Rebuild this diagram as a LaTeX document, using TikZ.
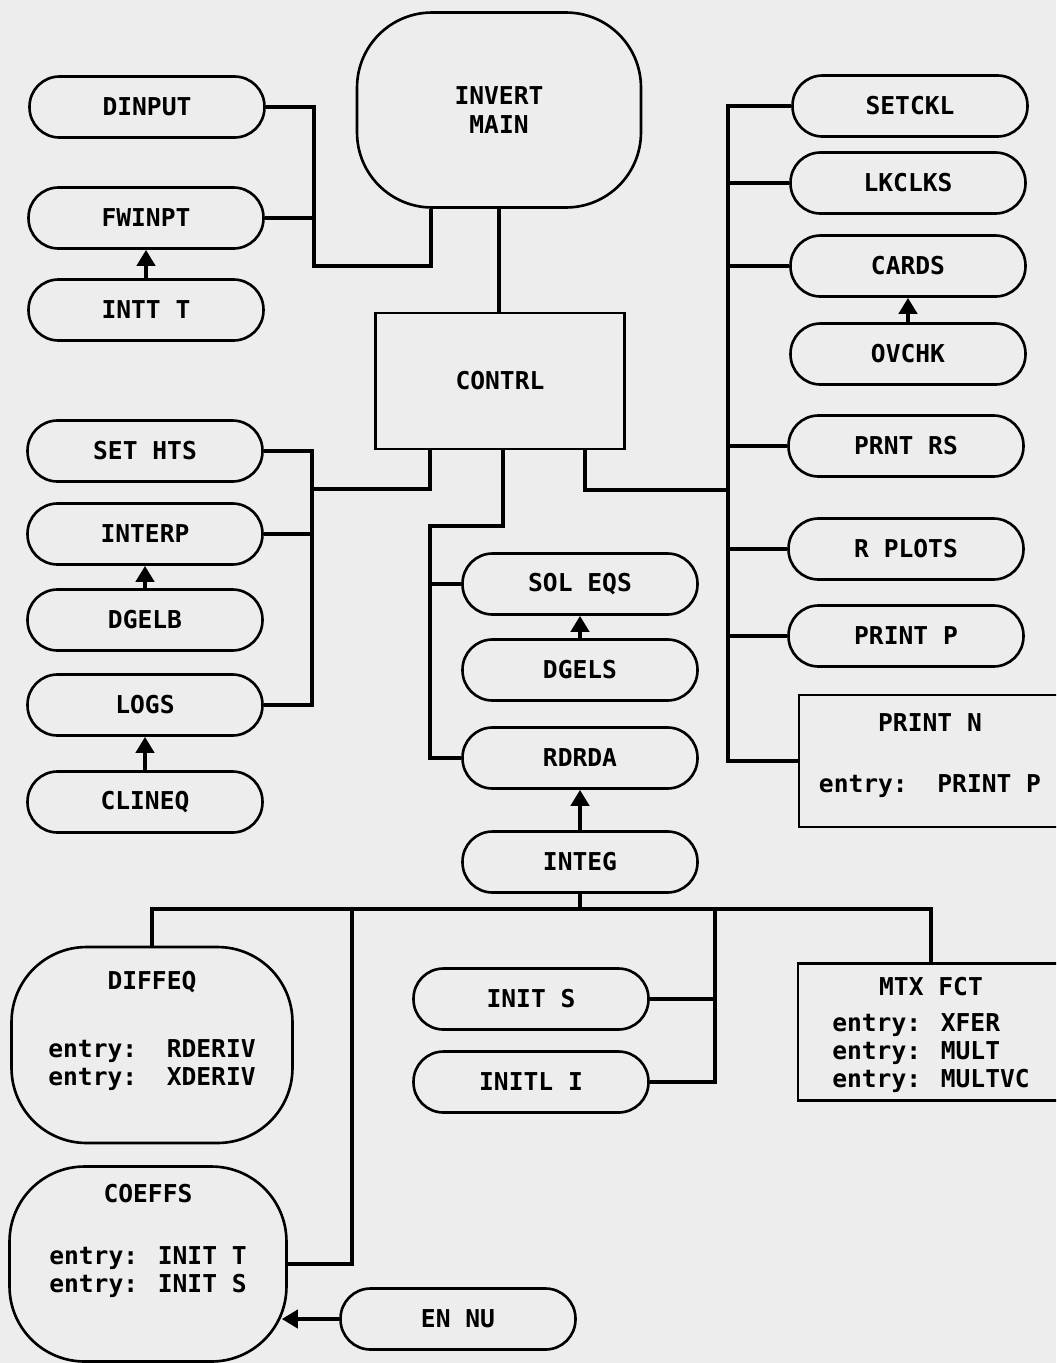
\documentclass[tikz,border=0pt]{standalone}
\usepackage{fontspec}
\setmainfont{DejaVu Sans Mono}
\usepackage{tikz}
\usetikzlibrary{arrows.meta}
\usepackage{xcolor}
\definecolor{paper}{RGB}{237,237,237}
\newcommand{\pad}[3]{\raisebox{0pt}[\dimexpr\height+#1\relax][\dimexpr\depth+#2\relax]{#3}}

\begin{document}
\begin{tikzpicture}[x=0.02cm,y=-0.02cm,font=\fontsize{14}{16}\selectfont\bfseries,>={Triangle[width=0.36cm,length=0.32cm]},
pill/.style={draw,line width=1.5pt,rounded corners=0.6cm,minimum width=4.7cm,minimum height=1.22cm,inner sep=0pt},
blob/.style={draw,line width=1.5pt,rounded corners=1.5cm,align=center,inner sep=0pt},
box/.style={draw,line width=1.5pt,inner sep=0pt},
link/.style={line width=2.4pt}]
\useasboundingbox(0,0) rectangle (1056,1363);
\fill[paper](0,0) rectangle (1056,1363);
\clip(0,0) rectangle (1056,1363);
\node[blob,minimum width=5.68cm,minimum height=3.9cm](invert) at (499,110){INVERT\\MAIN};
\node[box,minimum width=4.98cm,minimum height=2.72cm](contrl) at (500,381){CONTRL};
\node[pill](dinput) at (147,107){DINPUT};
\node[pill](fwinpt) at (146,218){FWINPT};
\node[pill](inttt) at (146,310){INTT T};
\node[pill](sethts) at (145,451){SET HTS};
\node[pill](interp) at (145,534){INTERP};
\node[pill](dgelb) at (145,620){DGELB};
\node[pill](logs) at (145,705){LOGS};
\node[pill](clineq) at (145,802){CLINEQ};
\node[pill](setckl) at (910,106){SETCKL};
\node[pill](lkclks) at (908,183){LKCLKS};
\node[pill](cards) at (908,266){CARDS};
\node[pill](ovchk) at (908,354){OVCHK};
\node[pill](prntrs) at (906,446){PRNT RS};
\node[pill](rplots) at (906,549){R PLOTS};
\node[pill](printp) at (906,636){PRINT P};
\node[box,minimum width=5.24cm,minimum height=2.64cm](printn) at (930,761){\pad{0pt}{0.18cm}{\begin{tabular}{@{}l@{}}\multicolumn{1}{@{}c@{}}{PRINT N}\\[0.66cm]entry:\ \ PRINT P\end{tabular}}};
\node[pill](soleqs) at (580,584){SOL EQS};
\node[pill](dgels) at (580,670){DGELS};
\node[pill](rdrda) at (580,758){RDRDA};
\node[pill](integ) at (580,862){INTEG};
\node[blob,minimum width=5.62cm,minimum height=3.92cm](diffeq) at (152,1045){\pad{0pt}{0.52cm}{\begin{tabular}{@{}l@{}}\multicolumn{1}{@{}c@{}}{DIFFEQ}\\[0.8cm]entry:\ \ RDERIV\\entry:\ \ XDERIV\end{tabular}}};
\node[blob,minimum width=5.54cm,minimum height=3.9cm](coeffs) at (148,1264){\pad{0pt}{0.88cm}{\begin{tabular}{@{}l@{}}\multicolumn{1}{@{}c@{}}{COEFFS}\\[0.68cm]entry: INIT T\\entry: INIT S\end{tabular}}};
\node[pill](inits) at (531,999){INIT S};
\node[pill](initli) at (531,1082){INITL I};
\node[box,minimum width=5.32cm,minimum height=2.74cm](mtxfct) at (931,1032){\pad{0.16cm}{0pt}{\begin{tabular}{@{}l@{}}\multicolumn{1}{@{}c@{}}{MTX FCT}\\[0.14cm]entry: XFER\\entry: MULT\\entry: MULTVC\end{tabular}}};
\node[pill](ennu) at (458,1319){EN NU};
\coordinate(la) at (314,266);\coordinate(ia) at (431,266);
\draw[link](dinput.east)-|(la)--(ia)--(ia|-invert.south);\draw[link](fwinpt.east)--(fwinpt.east-|la);
\draw[link](invert.south)--(invert.south|-contrl.north);
\coordinate(lc) at (312,489);\coordinate(cl) at (430,489);
\draw[link](sethts.east)-|(lc)--(cl)--(cl|-contrl.south);\draw[link](logs.east)-|(lc);\draw[link](interp.east)--(interp.east-|lc);
\coordinate(rb) at (728,490);\coordinate(cr) at (585,490);
\draw[link](setckl.west)-|(rb)--(cr)--(cr|-contrl.south);\draw[link](printn.west)-|(rb);
\foreach \n in {lkclks,cards,prntrs,rplots,printp}\draw[link](\n.west)--(\n.west-|rb);
\coordinate(ma) at (503,526);\coordinate(mb) at (430,526);
\draw[link](contrl.south-|ma)--(ma)--(mb)|-(rdrda.west);\draw[link](soleqs.west)--(soleqs.west-|mb);
\coordinate(bc) at (352,909);\coordinate(bi) at (715,909);
\draw[link](diffeq.north)|-(mtxfct.north|-bc)--(mtxfct.north);
\draw[link](integ.south)--(integ.south|-bc);
\draw[link](bc)|-(coeffs.east);
\draw[link](bi)|-(initli.east);\draw[link](inits.east)--(inits.east-|bi);
\draw[link,->](inttt.north)--(fwinpt.south);\draw[link,->](dgelb.north)--(interp.south);\draw[link,->](clineq.north)--(logs.south);
\draw[link,->](ovchk.north)--(cards.south);\draw[link,->](dgels.north)--(soleqs.south);\draw[link,->](integ.north)--(rdrda.south);
\draw[link,->](ennu.west)--([xshift=-0.12cm]coeffs.east|-ennu.west);
\end{tikzpicture}
\end{document}
